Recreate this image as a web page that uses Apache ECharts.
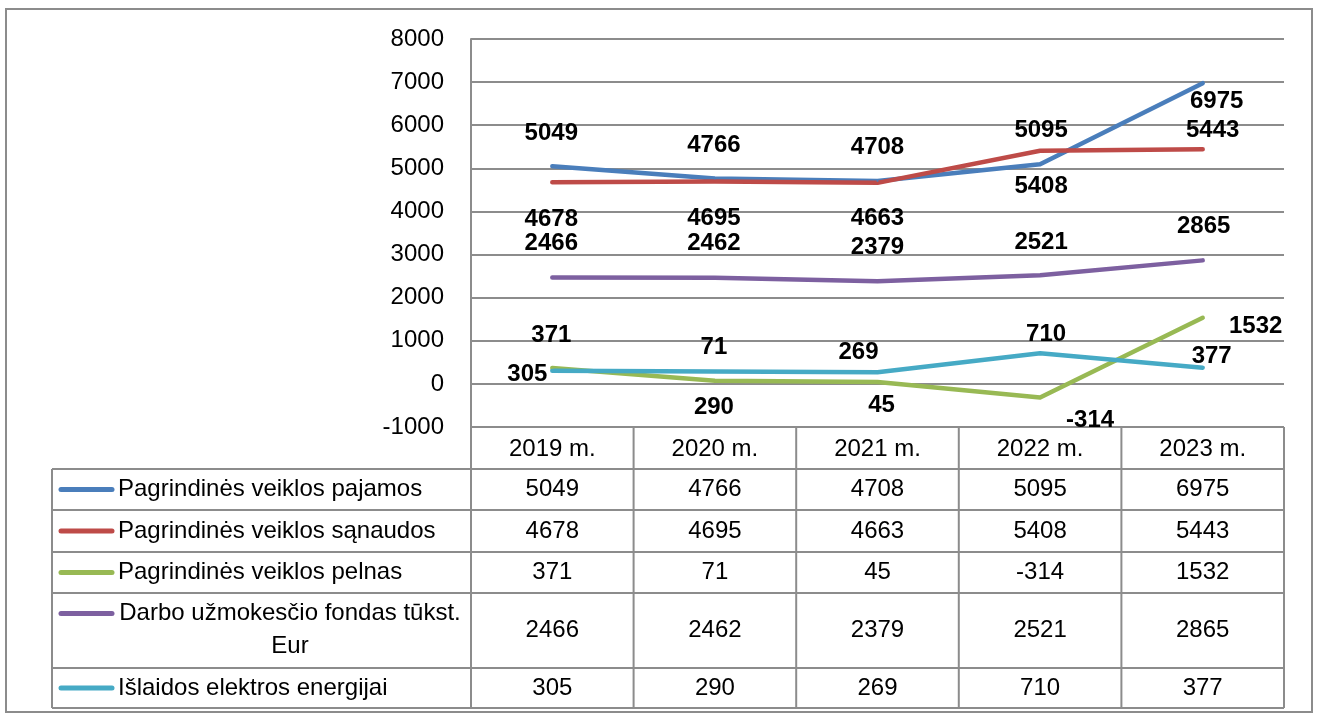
<!DOCTYPE html>
<html>
<head>
<meta charset="utf-8">
<title>Pagrindinės veiklos rodikliai</title>
<script src="https://cdn.jsdelivr.net/npm/echarts@6/dist/echarts.min.js"></script>
<style>
html, body { margin: 0; padding: 0; background: #fff; }
#chart { width: 1318px; height: 715px; }
</style>
</head>
<body>
<div id="chart"></div>
<script>
// data
var years = ['2019 m.', '2020 m.', '2021 m.', '2022 m.', '2023 m.'];
var seriesNames = [
    'Pagrindinės veiklos pajamos',
    'Pagrindinės veiklos sąnaudos',
    'Pagrindinės veiklos pelnas',
    'Darbo užmokesčio fondas tūkst. Eur',
    'Išlaidos elektros energijai'
];
var pajamos = [5049, 4766, 4708, 5095, 6975];
var sanaudos = [4678, 4695, 4663, 5408, 5443];
var pelnas = [371, 71, 45, -314, 1532];
var fondas = [2466, 2462, 2379, 2521, 2865];
var elektra = [305, 290, 269, 710, 377];
var yMin = -1000, yMax = 8000, yStep = 1000;

var allValues = [pajamos, sanaudos, pelnas, fondas, elektra];
var colors = ['#4A7EBB', '#BE4B48', '#98B954', '#7D60A0', '#46AAC5'];

// where each data label sits relative to its point (px), like the hand-moved excel labels
var labelShift = [
    [[-1, -33], [-1, -33], [0, -34], [1, -34], [14, 18]],
    [[-1, 37], [-1, 37], [0, 36], [1, 36], [10, -19]],
    [[-1, -33], [-1, -33], [4, 23], [50, 23], [53, 9]],
    [[-1, -34], [-1, -34], [0, -34], [1, -33], [1, -34]],
    [[-25, 4], [-1, 36], [-19, -20], [6, -19], [9, -11]]
];

var font = 'Liberation Sans, Arial, sans-serif';
var gridColor = '#8c8c8c';
var gridL = 471, gridR = 1284, gridT = 39, gridB = 427;
var colW = (gridR - gridL) / years.length;
var rowEdges = [427, 469, 510, 552, 593, 668, 708];
var tableL = 52;

var series = allValues.map(function (vals, s) {
    return {
        name: seriesNames[s],
        type: 'line',
        symbol: 'circle',
        symbolSize: 2,
        showSymbol: true,
        color: colors[s],
        lineStyle: { width: 4.5, cap: 'round', join: 'round', color: colors[s] },
        label: {
            show: true,
            position: 'inside',
            color: '#000',
            fontFamily: font,
            fontSize: 24,
            fontWeight: 'bold'
        },
        emphasis: { disabled: true },
        data: vals.map(function (v, i) {
            return { value: v, label: { offset: labelShift[s][i] } };
        })
    };
});

// data table under the plot
var g = [];
function hline(y, x1, x2) {
    g.push({ type: 'line', shape: { x1: x1, y1: y, x2: x2, y2: y }, style: { stroke: gridColor, lineWidth: 2 } });
}
function vline(x, y1, y2) {
    g.push({ type: 'line', shape: { x1: x, y1: y1, x2: x, y2: y2 }, style: { stroke: gridColor, lineWidth: 2 } });
}
function txt(t, x, y, align) {
    g.push({ type: 'text', x: x, y: y, style: { text: t, fill: '#000', font: '24px ' + font, textAlign: align || 'center', textVerticalAlign: 'middle' } });
}

// outer frame
g.push({ type: 'rect', shape: { x: 6, y: 9, width: 1306, height: 703 }, style: { fill: 'none', stroke: '#8c8c8c', lineWidth: 2 } });

for (var r = 1; r < rowEdges.length; r++) hline(rowEdges[r], tableL, gridR);
vline(tableL, rowEdges[1], rowEdges[6]);
for (var k = 0; k <= years.length; k++) vline(gridL + k * colW, rowEdges[0], rowEdges[6]);

years.forEach(function (y, i) {
    txt(y, gridL + colW * (i + 0.5), (rowEdges[0] + rowEdges[1]) / 2 + 1);
});

allValues.forEach(function (vals, s) {
    var top = rowEdges[s + 1], bot = rowEdges[s + 2];
    var mid = (top + bot) / 2;
    var lineY = mid;
    if (seriesNames[s].length > 30) {
        // long name wraps on two centred lines
        var cut = seriesNames[s].lastIndexOf(' ');
        lineY = mid - 17;
        txt(seriesNames[s].slice(0, cut), 290, mid - 17);
        txt(seriesNames[s].slice(cut + 1), 290, mid + 16);
    } else {
        txt(seriesNames[s], 118, mid, 'left');
    }
    g.push({ type: 'line', shape: { x1: 61, y1: lineY, x2: 112, y2: lineY }, style: { stroke: colors[s], lineWidth: 5, lineCap: 'round' } });
    vals.forEach(function (v, i) {
        txt(String(v), gridL + colW * (i + 0.5), mid);
    });
});

var chart = echarts.init(document.getElementById('chart'), null, { renderer: 'canvas' });
chart.setOption({
    animation: false,
    textStyle: { fontFamily: font },
    grid: { left: gridL, right: 1318 - gridR, top: gridT, bottom: 715 - gridB, containLabel: false },
    xAxis: {
        type: 'category',
        data: years,
        boundaryGap: true,
        axisLine: { show: false },
        axisTick: { show: false },
        axisLabel: { show: false },
        splitLine: { show: false }
    },
    yAxis: {
        type: 'value',
        min: yMin,
        max: yMax,
        interval: yStep,
        axisLine: { show: true, lineStyle: { color: gridColor, width: 2 } },
        axisTick: { show: false },
        axisLabel: {
            color: '#000', fontSize: 24, fontFamily: font, margin: 27,
            formatter: function (v) { return String(v); }
        },
        splitLine: { show: true, lineStyle: { color: gridColor, width: 2 } }
    },
    series: series,
    graphic: g
});
</script>
</body>
</html>
